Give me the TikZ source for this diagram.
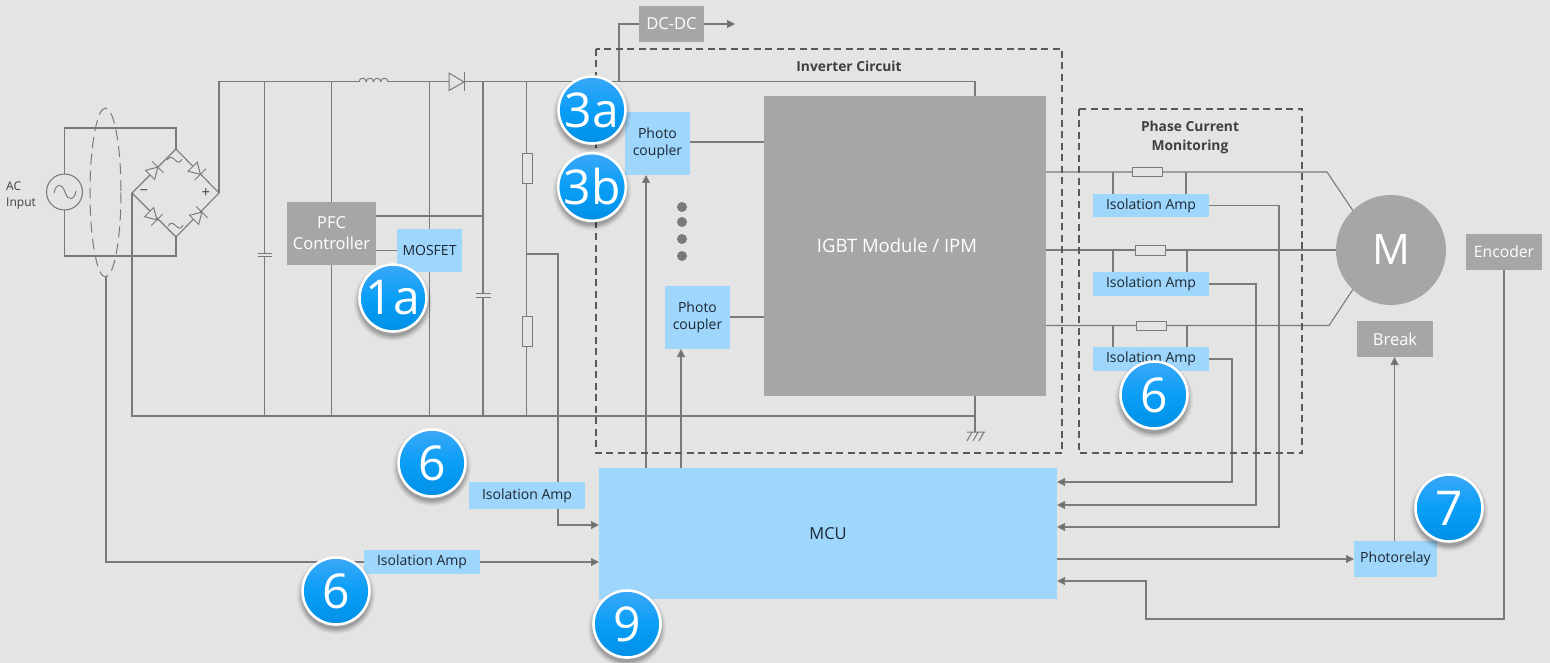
\documentclass[tikz,border=0pt]{standalone}
\usepackage{fontspec}
\setmainfont{Open Sans}
\usetikzlibrary{arrows.meta,calc}
\definecolor{bgc}{HTML}{E4E4E4}
\definecolor{wirec}{HTML}{7A7A7A}
\definecolor{grayb}{HTML}{A6A6A6}
\definecolor{blueb}{HTML}{9FD6FB}
\definecolor{darkt}{HTML}{1C2733}
\definecolor{labt}{HTML}{404040}
\definecolor{dashc}{HTML}{595959}
\definecolor{badgetop}{HTML}{3BA8F7}
\definecolor{badgebot}{HTML}{0090E6}
\definecolor{badgemid}{HTML}{0A9EF7}
\newcommand{\fs}[1]{\fontsize{#1}{#1}\selectfont}
\newcommand{\lowr}[1]{\raisebox{-2pt}{#1}}
\tikzset{
  x=1pt,y=-1pt,
  wire/.style={draw=wirec,line width=1.1pt},
  arrowwire/.style={wire,-{Triangle[length=8pt,width=8pt,fill=wirec!90!black]}},
  dashbox/.style={draw=dashc,line width=1.2pt,dash pattern=on 7pt off 4.5pt},
  ellipsedash/.style={draw=wirec,line width=1pt,dash pattern=on 11pt off 6pt},
  boxbase/.style={inner sep=0pt,outer sep=0pt,align=center},
  graybox/.style={boxbase,fill=grayb,text=white},
  bluebox/.style={boxbase,fill=blueb,text=darkt},
  resistor/.style={draw=wirec,line width=1pt,fill=bgc,inner sep=0pt,outer sep=0pt},
  tlabel/.style={text=labt,inner sep=0pt,align=center},
  badge/.style={circle,minimum size=67pt,inner sep=0pt,draw=white,line width=2.6pt,text=white,
     top color=badgetop,bottom color=badgebot,middle color=badgemid,font=\fs{48}},
  diodeshape/.style={draw=wirec,line width=1pt,fill=bgc},
}
% corners x1,y1,x2,y2
\newcommand{\rectnode}[7]{\node[#1,minimum width={(#5-#3)*1pt},minimum height={(#6-#4)*1pt}] (#2) at ({(#3+#5)/2},{(#4+#6)/2}) {#7};}
\newcommand{\diodeat}[3]{\begin{scope}[shift={(#1,#2)},rotate=#3]
  \draw[diodeshape] (-5.5,-6.5) -- (-5.5,6.5) -- (5.5,0) -- cycle;
  \draw[wire,line width=1pt] (5.5,-8) -- (5.5,8);
\end{scope}}
\newcommand{\badgeat}[4]{
  \foreach \rr/\oo in {78/.05,75/.07,72/.09,69/.12}{
    \node[circle,minimum size=\rr pt,inner sep=0pt,fill=black,fill opacity=\oo] at (#2,#3+4) {};}
  \node[badge] (#1) at (#2,#3) {#4};}
\newcommand{\pfctext}{\raisebox{-1pt}{\fs{16.5}PFC}\\[7.5pt]\raisebox{-1pt}{\fs{16.5}Controller}}
\newcommand{\pctext}{\fs{14}Photo\\[5.5pt]\fs{14}coupler}
\newcommand{\isotext}{\fs{14}\lowr{Isolation Amp}}
\begin{document}
\begin{tikzpicture}
\useasboundingbox (0,0) rectangle (1550,663);
\fill[bgc] (0,0) rectangle (1550,663);

% boxes (named first so that wires can refer to them; drawn on top below)
\rectnode{graybox}{pfc}{287}{202}{376}{265}{\pfctext}
\rectnode{bluebox}{mosfet}{397}{229}{462}{272}{\fs{14}MOSFET}
\rectnode{graybox}{dcdc}{639}{6}{704}{42}{\fs{16.5}DC-DC}
\rectnode{graybox}{igbt}{764}{96}{1046}{396}{\fs{18.5}\hspace*{-16pt}IGBT Module / IPM}
\rectnode{bluebox}{pc1}{625}{112}{690}{175}{\pctext}
\rectnode{bluebox}{pc2}{665}{286}{730}{349}{\pctext}
\rectnode{bluebox}{isoa}{1093}{194}{1209}{217}{\isotext}
\rectnode{bluebox}{isob}{1093}{272}{1209}{296}{\isotext}
\rectnode{bluebox}{isoc}{1093}{347}{1209}{371}{\isotext}
\rectnode{bluebox}{isod}{469}{482}{585}{509}{\isotext}
\rectnode{bluebox}{isoe}{364}{550}{480}{574}{\isotext}
\rectnode{bluebox}{mcu}{599}{468}{1057}{599}{\fs{16.5}MCU}
\rectnode{bluebox}{relay}{1354}{541}{1437}{577}{\fs{14}Photorelay}
\rectnode{graybox}{brk}{1357}{321}{1433}{357}{\fs{16.5}Break}
\rectnode{graybox}{enc}{1466}{234}{1542}{270}{\fs{15.7}Encoder}
\node[circle,fill=grayb,inner sep=0pt,outer sep=0pt,minimum size=110pt,text=white,font=\fs{42}] (motor) at (1391,250) {M};

% junction coordinates
\coordinate (dtop) at (176,149); \coordinate (dright) at (219,193);
\coordinate (dbot) at (176,237); \coordinate (dleft) at (132,193);
\coordinate (srcT) at (64.5,128); \coordinate (srcB) at (64.5,256);
\coordinate (topR) at (176,128); \coordinate (botR) at (176,256);
\coordinate (busL) at (219,81.5); \coordinate (busR) at (975,81.5);
\coordinate (gndL) at (132,416); \coordinate (gndJ) at (975,416);
\coordinate (gnd) at (975,432);
\coordinate (dcT) at (619,81.5); \coordinate (dcB) at (619,24);
\coordinate (c1) at (264.5,81.5); \coordinate (c1b) at (264.5,416);
\coordinate (c2) at (483,81.5); \coordinate (c2b) at (483,416);
\coordinate (rr) at (526.5,81.5); \coordinate (rrb) at (526.5,416);
\coordinate (rmid) at (526.5,254); \coordinate (rturn) at (558,254); \coordinate (ysense) at (558,525);
\coordinate (ac) at (106,277); \coordinate (acb) at (106,562);
\coordinate (arrowend) at (735,24);
\coordinate (ph1) at (1327,172); \coordinate (ph3) at (1329,325.5);
\coordinate (wa) at (1279,527); \coordinate (wb) at (1256,505); \coordinate (wc) at (1232,482);
\coordinate (rel) at (1057,559); \coordinate (encB) at (1505,619); \coordinate (encC) at (1146,619); \coordinate (encD) at (1146,581);
\coordinate (relb) at (1394.5,541);
\coordinate (ta1) at (1113,172); \coordinate (ta2) at (1186,172);
\coordinate (tb1) at (1113,250); \coordinate (tb2) at (1187,250);
\coordinate (tc1) at (1113,325.5); \coordinate (tc2) at (1187,325.5);

% AC side
\node[circle,draw=wirec,line width=1.1pt,inner sep=0pt,minimum size=36pt,outer sep=0pt] (src) at (64.5,192) {};
\draw[wire] (src.north) -- (srcT) -- (topR) -- (dtop);
\draw[wire] (src.south) -- (srcB) -- (botR) -- (dbot);
\draw[wire,line width=1pt] (54,193) .. controls (56,183) and (62,183) .. (65,192) .. controls (68,201) and (74,201) .. (76,191);
\node[tlabel,font=\fs{12},align=left,anchor=west] (aclabel) at (6,196) {AC\\[4pt]Input};
\draw[ellipsedash] (105.5,192.5) ellipse [x radius=15.5,y radius=84.5];
\draw[wire] (ac) -- (acb) -- (isoe.west);
\draw[arrowwire] (isoe.east) -- (mcu.west |- isoe.east);

% bridge
\draw[wire] (dtop) -- (dright) -- (dbot) -- (dleft) -- cycle;
\diodeat{154}{171}{45}
\diodeat{196.5}{170.5}{-45}
\diodeat{153}{216}{-45}
\diodeat{198}{216}{45}
\node[text=labt,font=\fs{15},inner sep=0pt] (minus) at (144,193) {−};
\node[text=labt,font=\fs{15},inner sep=0pt] (plus) at (206,193) {+};
\draw[wire,line width=.9pt] (167,160) .. controls (170,155) and (173,158) .. (175,160) .. controls (177,162) and (180,164) .. (182,159);
\draw[wire,line width=.9pt] (168,226) .. controls (171,221) and (174,224) .. (176,226) .. controls (178,228) and (181,230) .. (183,225);

% DC bus
\draw[wire] (dright) -- (busL) -- (busR) -- (busR |- igbt.north);
\draw[wire] (dleft) -- (gndL) -- (gndJ);
\draw[wire] (igbt.south -| gnd) -- (gnd);
\draw[wire,line width=1pt] (967,432) -- (985,432) (972,432) -- (967,441) (978,432) -- (973,441) (984,432) -- (979,441);
% inductor
\fill[bgc] (359,80) rectangle (388,84);
\foreach \ix in {359,366.25,373.5,380.75}{
  \draw[wire,line width=1pt] (\ix,82) .. controls (\ix,77) and (\ix+7.25,77) .. (\ix+7.25,82);}
% diode
\draw[diodeshape,fill=bgc] (449,73) -- (449,90.5) -- (464,82) -- cycle;
\draw[wire,line width=1pt] (464.5,72.5) -- (464.5,91);
% cap 1
\draw[wire] (c1) -- (c1b);
\fill[bgc] (257,253.5) rectangle (273,256);
\draw[wire,line width=1pt] (257.5,253) -- (272,253) (257.5,256.5) -- (272,256.5);
% PFC
\draw[wire] (pfc.north |- c1) -- (pfc.north);
\draw[wire] (pfc.south) -- (pfc.south |- c1b);
\draw[wire] (pfc.east |- mosfet.west) -- (mosfet.west);
\draw[wire] (pfc.east |- 0,216) -- (483,216);
\draw[wire] (mosfet.north |- c1) -- (mosfet.north);
\draw[wire] (mosfet.south) -- (mosfet.south |- c1b);
% cap 2
\draw[wire] (c2) -- (c2b);
\fill[bgc] (475,293.5) rectangle (491,296.5);
\draw[wire,line width=1pt] (475.5,293.5) -- (490.5,293.5) (475.5,297) -- (490.5,297);
% divider
\draw[wire] (rr) -- (rrb);
\rectnode{resistor}{r1}{522}{154}{532}{184}{}
\rectnode{resistor}{r2}{522}{316}{532}{346}{}
\draw[arrowwire] (rmid) -- (rturn) -- (ysense) -- (mcu.west |- ysense);
% DC-DC
\draw[wire] (dcT) -- (dcB) -- (dcB -| dcdc.west);
\draw[arrowwire] (dcdc.east) -- (arrowend);
% photocouplers
\draw[wire] (pc1.east |- 0,142) -- (igbt.west |- 0,142);
\draw[wire] (pc2.east |- 0,317) -- (igbt.west |- 0,317);
\draw[arrowwire] (646,468) -- (646,175);
\draw[arrowwire] (681,468) -- (681,349);
\foreach \iy/\nm in {207/a,222/b,239/c,256/d}{
  \node[circle,fill=wirec,minimum size=10pt,inner sep=0pt] (dot\nm) at (682,\iy) {};}
% phases
\draw[wire] (igbt.east |- ph1) -- (ph1) -- (motor.134);
\draw[wire] (igbt.east |- motor.west) -- (motor.west);
\draw[wire] (igbt.east |- ph3) -- (ph3) -- (motor.226);
\rectnode{resistor}{ra}{1132}{168}{1162}{177}{}
\rectnode{resistor}{rb}{1135}{245}{1165}{255}{}
\rectnode{resistor}{rc}{1136}{321}{1166}{330}{}
\foreach \t/\b in {ta1/isoa,ta2/isoa,tb1/isob,tb2/isob,tc1/isoc,tc2/isoc}{
  \draw[wire] (\t) -- (\t |- \b.north);}
\draw[arrowwire] (isoa.east) -| (wa) -- (mcu.east |- wa);
\draw[arrowwire] (isob.east) -| (wb) -- (mcu.east |- wb);
\draw[arrowwire] (isoc.east) -| (wc) -- (mcu.east |- wc);
\draw[arrowwire] (rel) -- (relay.west |- rel);
\draw[arrowwire] (relb) -- (relb |- brk.south);
\draw[arrowwire] (enc.south) -- (enc.south |- encB) -- (encC) -- (encD) -- (mcu.east |- encD);

% dashed frames
\draw[dashbox] (596,49) rectangle (1062,453);
\draw[dashbox] (1079,109) rectangle (1302,453);
\node[tlabel,font=\bfseries\fs{13.8}] (invlabel) at (849,66) {Inverter Circuit};
\node[tlabel,font=\bfseries\fs{13.8}] (phlabel) at (1190,137.5) {Phase Current\\[6pt]Monitoring};

% redraw boxes over wires
\rectnode{graybox}{pfc}{287}{202}{376}{265}{\pfctext}
\rectnode{bluebox}{mosfet}{397}{229}{462}{272}{\fs{14}MOSFET}
\rectnode{bluebox}{isod}{469}{482}{585}{509}{\isotext}

% badges
\badgeat{b1}{393}{298}{1a}
\badgeat{b2}{592}{110}{3a}
\badgeat{b3}{592}{187}{3b}
\badgeat{b4}{432}{463}{6}
\badgeat{b5}{336}{591}{6}
\badgeat{b6}{627}{624}{9}
\badgeat{b7}{1154}{395}{6}
\badgeat{b8}{1449}{508}{7}
\end{tikzpicture}
\end{document}
